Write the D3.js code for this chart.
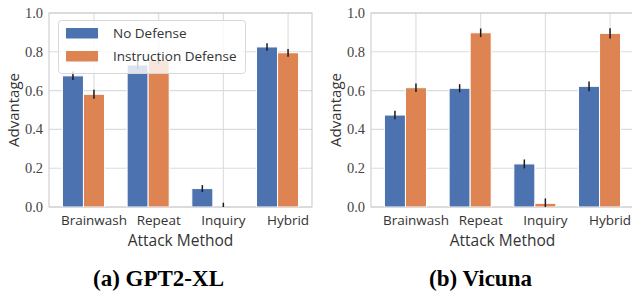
<!DOCTYPE html>
<html>
<head>
<meta charset="utf-8">
<script src="https://cdn.jsdelivr.net/npm/d3@7"></script>
<style>
  body { margin: 0; background: #fff; }
  svg { display: block; }
</style>
</head>
<body>
<script>
(function(){

//chart data
var categories = ["Brainwash", "Repeat", "Inquiry", "Hybrid"];
var seriesNames = ["No Defense", "Instruction Defense"];
var yTicks = [0.0, 0.2, 0.4, 0.6, 0.8, 1.0];

var gptNoDef = [0.676, 0.732, 0.095, 0.825];
var gptNoDefErr = [0.022, 0.020, 0.018, 0.019];
var gptInstr = [0.581, 0.758, 0.0, 0.795];
var gptInstrErr = [0.023, 0.020, 0.022, 0.020];

var vicNoDef = [0.474, 0.612, 0.222, 0.622];
var vicNoDefErr = [0.022, 0.021, 0.023, 0.025];
var vicInstr = [0.615, 0.898, 0.019, 0.895];
var vicInstrErr = [0.022, 0.022, 0.025, 0.026];

var colors = ["#4C72B0", "#DD8452"];

var width = 632, height = 296;

var svg = d3.select("body")
    .append("svg")
    .attr("width", width)
    .attr("height", height);

var panels = [
  {title: "(a) GPT2-XL", left: 49, right: 312, values: [gptNoDef, gptInstr], errs: [gptNoDefErr, gptInstrErr], legend: true},
  {title: "(b) Vicuna", left: 371, right: 634, values: [vicNoDef, vicInstr], errs: [vicNoDefErr, vicInstrErr], legend: false}
];

var top = 13, bottom = 207;
var barW = 0.325; //bar width in category units

panels.forEach(function(p, pi){
  drawPanel(p, pi);
});

function drawPanel(p, pi){
  var x = d3.scaleLinear().domain([-0.695, 3.37]).range([p.left, p.right]);
  var y = d3.scaleLinear().domain([0, 1]).range([bottom, top]);

  var g = svg.append("g");

  //clip for the axes area
  g.append("clipPath")
      .attr("id", "clip" + pi)
    .append("rect")
      .attr("x", p.left)
      .attr("y", top)
      .attr("width", p.right - p.left)
      .attr("height", bottom - top);

  //horizontal grid
  g.selectAll(".hgrid")
      .data(yTicks)
      .enter()
      .append("line")
      .attr("x1", p.left)
      .attr("x2", p.right)
      .attr("y1", function(d){ return y(d); })
      .attr("y2", function(d){ return y(d); })
      .attr("stroke", "#dcdcdc")
      .attr("stroke-width", 1.1);

  //vertical grid at category ticks
  g.selectAll(".vgrid")
      .data(categories)
      .enter()
      .append("line")
      .attr("x1", function(d, i){ return x(i); })
      .attr("x2", function(d, i){ return x(i); })
      .attr("y1", top)
      .attr("y2", bottom)
      .attr("stroke", "#dcdcdc")
      .attr("stroke-width", 1.1);

  //spines
  g.append("rect")
      .attr("x", p.left)
      .attr("y", top)
      .attr("width", p.right - p.left)
      .attr("height", bottom - top)
      .attr("fill", "none")
      .attr("stroke", "#cccccc")
      .attr("stroke-width", 1.1);

  var plot = g.append("g").attr("clip-path", "url(#clip" + pi + ")");

  //bars, blue sits left of the tick, orange centred on it
  p.values.forEach(function(vals, si){
    var off = si === 0 ? -barW : 0;
    plot.selectAll(".bar" + si)
        .data(vals)
        .enter()
        .append("rect")
        .attr("x", function(d, i){ return x(i + off - barW / 2); })
        .attr("width", x(barW) - x(0))
        .attr("y", function(d){ return y(d); })
        .attr("height", function(d){ return y(0) - y(d); })
        .attr("fill", colors[si])
        .attr("stroke", "#fff")
        .attr("stroke-width", 1);

    plot.selectAll(".err" + si)
        .data(vals)
        .enter()
        .append("line")
        .attr("x1", function(d, i){ return x(i + off); })
        .attr("x2", function(d, i){ return x(i + off); })
        .attr("y1", function(d, i){ return y(d - p.errs[si][i]); })
        .attr("y2", function(d, i){ return y(d + p.errs[si][i]); })
        .attr("stroke", "#1a1a1a")
        .attr("stroke-width", 1.5);
  });

  //y tick labels
  g.selectAll(".ytick")
      .data(yTicks)
      .enter()
      .append("text")
      .attr("x", p.left - 6)
      .attr("y", function(d){ return y(d); })
      .attr("dy", "0.35em")
      .attr("text-anchor", "end")
      .attr("font-family", "'Liberation Serif', serif")
      .attr("font-size", 14.5)
      .attr("fill", "#444")
      .text(function(d){ return d3.format(".1f")(d); });

  //category labels
  g.selectAll(".xtick")
      .data(categories)
      .enter()
      .append("text")
      .attr("x", function(d, i){ return x(i); })
      .attr("y", 225)
      .attr("text-anchor", "middle")
      .attr("font-family", "'Open Sans', sans-serif")
      .attr("font-size", 13.5)
      .attr("fill", "#333")
      .text(function(d){ return d; });

  //axis titles
  g.append("text")
      .attr("x", (p.left + p.right) / 2)
      .attr("y", 246)
      .attr("text-anchor", "middle")
      .attr("font-family", "'Open Sans', sans-serif")
      .attr("font-size", 15.5)
      .attr("fill", "#333")
      .text("Attack Method");

  g.append("text")
      .attr("transform", "translate(" + (p.left - 30) + "," + ((top + bottom) / 2) + ") rotate(-90)")
      .attr("text-anchor", "middle")
      .attr("font-family", "'Open Sans', sans-serif")
      .attr("font-size", 15)
      .attr("fill", "#333")
      .text("Advantage");

  //subfigure caption
  g.append("text")
      .attr("x", (p.left + p.right) / 2 - 22)
      .attr("y", 286)
      .attr("text-anchor", "middle")
      .attr("font-family", "'Liberation Serif', serif")
      .attr("font-weight", "bold")
      .attr("font-size", 23)
      .attr("fill", "#000")
      .text(p.title);

  if (p.legend) drawLegend(g);
}

function drawLegend(g){
  var lg = g.append("g");
  lg.append("rect")
      .attr("x", 58.5)
      .attr("y", 20.5)
      .attr("width", 187)
      .attr("height", 53)
      .attr("rx", 3)
      .attr("fill", "#fff")
      .attr("fill-opacity", 0.8)
      .attr("stroke", "#d8d8d8")
      .attr("stroke-width", 1);

  seriesNames.forEach(function(name, i){
    lg.append("rect")
        .attr("x", 66)
        .attr("y", 28 + i * 23)
        .attr("width", 32)
        .attr("height", 10.5)
        .attr("fill", colors[i]);
    lg.append("text")
        .attr("x", 113)
        .attr("y", 33 + i * 23)
        .attr("dy", "0.35em")
        .attr("font-family", "'Open Sans', sans-serif")
        .attr("font-size", 13.5)
        .attr("fill", "#333")
        .text(name);
  });
}

})();
</script>
</body>
</html>
